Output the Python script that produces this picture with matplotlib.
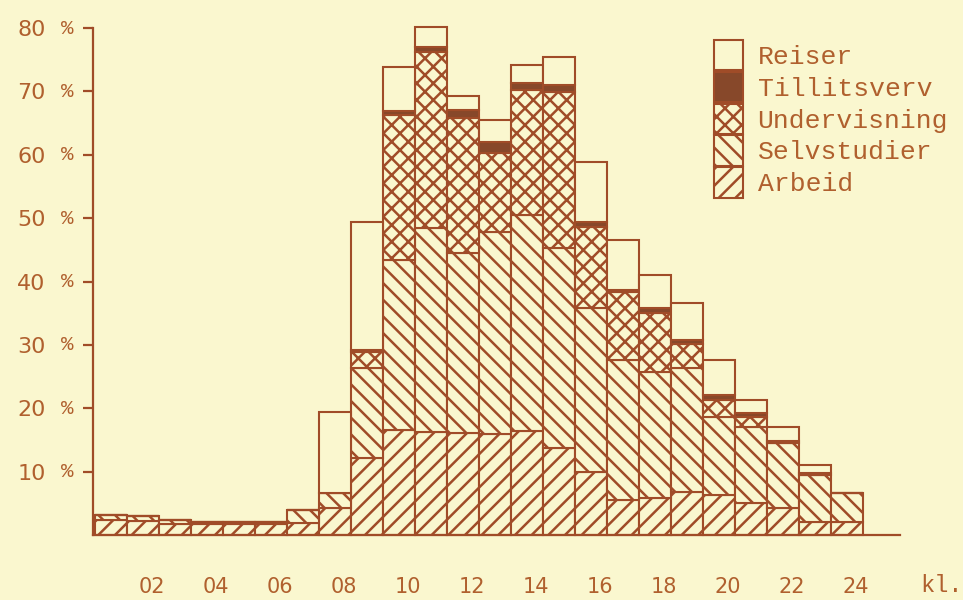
import numpy as np
import matplotlib.pyplot as plt
from matplotlib.patches import Patch

# hour of day (bar starts at the hour)
hours = np.arange(24)

# percent per activity, stacked bottom -> top
arbeid = [2.4, 2.2, 1.7, 1.7, 1.7, 1.7, 1.9, 4.3, 12.1, 16.6, 16.2, 16.1,
          16.0, 16.4, 13.7, 9.9, 5.5, 5.8, 6.8, 6.3, 5.0, 4.3, 2.0, 2.0]
selvstudier = [0.8, 0.8, 0.7, 0.3, 0.3, 0.3, 2.0, 2.3, 14.2, 26.8, 32.2, 28.4,
               31.8, 34.1, 31.6, 25.9, 22.1, 19.9, 19.5, 12.3, 12.0, 10.2, 7.5, 4.6]
undervisning = [0, 0, 0, 0, 0, 0, 0, 0, 2.6, 22.8, 27.8, 21.3,
                12.4, 19.7, 24.6, 12.8, 10.7, 9.3, 3.8, 2.7, 1.6, 0, 0, 0]
tillitsverv = [0, 0, 0, 0, 0, 0, 0, 0, 0.3, 0.7, 0.8, 1.2,
               1.8, 1.1, 1.1, 0.8, 0.3, 0.8, 0.7, 0.8, 0.6, 0.3, 0.3, 0]
reiser = [0, 0, 0, 0, 0, 0, 0, 12.8, 20.2, 6.9, 3.1, 2.2,
          3.5, 2.8, 4.4, 9.4, 7.9, 5.2, 5.8, 5.5, 2.1, 2.2, 1.2, 0]

series_names = ["Arbeid", "Selvstudier", "Undervisning", "Tillitsverv", "Reiser"]
y_ticks = [10, 20, 30, 40, 50, 60, 70, 80]
x_ticks = [2, 4, 6, 8, 10, 12, 14, 16, 18, 20, 22, 24]
x_labels = ["02", "04", "06", "08", "10", "12", "14", "16", "18", "20", "22", "24"]

bg = "#faf7cf"
line = "#a04c28"
text_c = "#b0602e"
solid = "#87482a"

styles = {
    "Arbeid": dict(facecolor=bg, hatch="//"),
    "Selvstudier": dict(facecolor=bg, hatch="\\\\"),
    "Undervisning": dict(facecolor=bg, hatch="xx"),
    "Tillitsverv": dict(facecolor=solid, hatch=None),
    "Reiser": dict(facecolor=bg, hatch=None),
}

plt.rcParams["hatch.linewidth"] = 1.8

fig = plt.figure(figsize=(9.63, 6.0), dpi=100, facecolor=bg)
ax = fig.add_axes([93 / 963, 65 / 600, 807 / 963, 507 / 600])
ax.set_facecolor(bg)

data = [arbeid, selvstudier, undervisning, tillitsverv, reiser]
bottom = np.zeros(len(hours))
for name, vals in zip(series_names, data):
    vals = np.asarray(vals, dtype=float)
    ax.bar(hours, vals, width=1.0, bottom=bottom, align="edge",
           edgecolor=line, linewidth=1.5, clip_on=False, **styles[name])
    bottom += vals

ax.set_xlim(-0.0625, 25.16)
ax.set_ylim(0, 80)

for s in ["top", "right"]:
    ax.spines[s].set_visible(False)
for s in ["left", "bottom"]:
    ax.spines[s].set_color(line)
    ax.spines[s].set_linewidth(1.6)

# y axis: numbers, then a separate percent sign
ax.set_yticks(y_ticks)
ax.set_yticklabels([str(v) for v in y_ticks])
ax.tick_params(axis="y", length=7, width=1.6, color=line, pad=27,
               labelsize=16, labelcolor=text_c)
for v in y_ticks:
    ax.text(-0.032, v, "%", transform=ax.get_yaxis_transform(),
            ha="center", va="center", fontsize=15, color=text_c,
            family="Liberation Mono")

ax.set_xticks([x - 0.22 for x in x_ticks])
ax.set_xticklabels(x_labels)
ax.tick_params(axis="x", length=0, pad=30, labelsize=15, labelcolor=text_c)
fig.text(941 / 963, 1 - 585 / 600, "kl.", ha="center", va="center",
         fontsize=17, color=text_c, family="Liberation Mono")

handles = [Patch(edgecolor=line, linewidth=1.5, label=n, **styles[n])
           for n in reversed(series_names)]
leg = fig.legend(handles=handles, loc="upper left",
                 bbox_to_anchor=(714 / 963, 1 - 40 / 600), frameon=False,
                 prop={"family": "Liberation Mono", "size": 19},
                 handlelength=1.1, handleheight=1.4, labelspacing=0.05,
                 handletextpad=0.55, borderpad=0, borderaxespad=0)
for t in leg.get_texts():
    t.set_color(text_c)

fig.savefig("out.png", dpi=100, facecolor=bg)
